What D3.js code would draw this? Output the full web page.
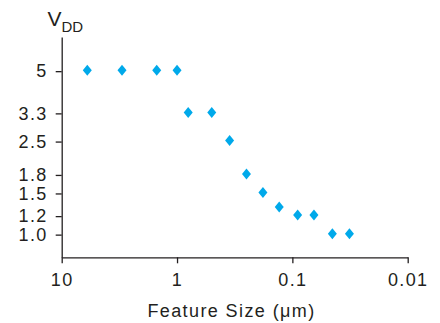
<!DOCTYPE html>
<html>
<head>
<meta charset="utf-8">
<script src="https://cdn.jsdelivr.net/npm/d3@7"></script>
<style>
  html, body { margin: 0; padding: 0; background: #fff; }
  svg { display: block; }
  text { font-family: "Liberation Sans", Arial, sans-serif; fill: #231f20; }
</style>
</head>
<body>
<svg id="chart" width="440" height="323"></svg>
<script>
// Data
const featureSize = [6, 3, 1.5, 1.0, 0.8, 0.5, 0.35, 0.25, 0.18, 0.13, 0.09, 0.065, 0.045, 0.032];
const vdd = [5, 5, 5, 5, 3.3, 3.3, 2.5, 1.8, 1.5, 1.3, 1.2, 1.2, 1.0, 1.0];
const xTickValues = [10, 1, 0.1, 0.01];
const xTickLabels = ["10", "1", "0.1", "0.01"];
const yTickValues = [5, 3.3, 2.5, 1.8, 1.5, 1.2, 1.0];
const yTickLabels = ["5", "3.3", "2.5", "1.8", "1.5", "1.2", "1.0"];

const svg = d3.select("#chart");
const axisColor = "#231f20";
const dotColor = "#00a9ea";

const x = d3.scaleLog().domain([10, 0.01]).range([61.7, 407.7]);
const y = d3.scaleLog().domain([0.8, 7]).range([257.3, 37]);

// X axis
const xAxis = d3.axisBottom(x)
  .tickValues(xTickValues)
  .tickFormat((d, i) => xTickLabels[i])
  .tickSizeInner(6).tickSizeOuter(0).tickPadding(10);
const gx = svg.append("g").attr("transform", `translate(0,${y.range()[0]})`).call(xAxis);
gx.select(".domain").attr("stroke", axisColor).attr("stroke-width", 1.3);
gx.selectAll(".tick line").attr("stroke", axisColor).attr("stroke-width", 1.3);
gx.selectAll(".tick text")
  .style("font-family", "'Liberation Sans', Arial, sans-serif")
  .style("font-size", "18px").style("letter-spacing", "1.4px")
  .attr("fill", axisColor);

// Y axis
const yAxis = d3.axisLeft(y)
  .tickValues(yTickValues)
  .tickFormat((d, i) => yTickLabels[i])
  .tickSizeInner(6).tickSizeOuter(0).tickPadding(8);
const gy = svg.append("g").attr("transform", `translate(${x.range()[0]},0)`).call(yAxis);
gy.select(".domain").attr("stroke", axisColor).attr("stroke-width", 1.3);
gy.selectAll(".tick line").attr("stroke", axisColor).attr("stroke-width", 1.3);
gy.selectAll(".tick text")
  .style("font-family", "'Liberation Sans', Arial, sans-serif")
  .style("font-size", "18px").style("letter-spacing", "1.4px")
  .attr("fill", axisColor);

// Y axis title V_DD
const yt = svg.append("text")
  .attr("x", 47.5).attr("y", 25.5)
  .style("font-size", "21px")
  .attr("fill", axisColor);
yt.append("tspan").text("V");
yt.append("tspan").attr("dy", 6).style("font-size", "15px").text("DD");

// X axis title
svg.append("text")
  .attr("x", 231.5).attr("y", 316.7)
  .attr("text-anchor", "middle")
  .style("font-size", "18px").style("letter-spacing", "1.4px")
  .attr("fill", axisColor)
  .text("Feature Size (\u03bcm)");

// Diamonds
const hw = 4.5, hh = 5.5;
const diamond = `M0,${-hh}L${hw},0L0,${hh}L${-hw},0Z`;
svg.append("g").selectAll("path")
  .data(featureSize.map((f, i) => ({ f, v: vdd[i] })))
  .join("path")
  .attr("d", diamond)
  .attr("transform", d => `translate(${x(d.f)},${y(d.v) - 1})`)
  .attr("fill", dotColor);
</script>
</body>
</html>
